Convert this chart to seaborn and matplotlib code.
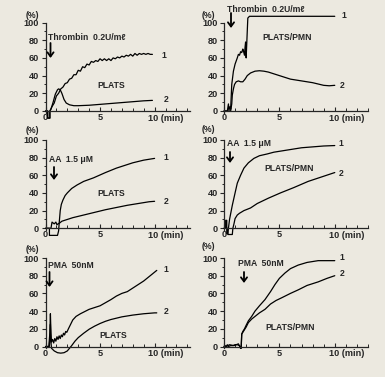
import matplotlib
matplotlib.use("Agg")
import matplotlib.pyplot as plt
import seaborn as sns
from matplotlib.ticker import MultipleLocator, FixedLocator

sns.set_style("ticks")
plt.rcParams['font.family'] = ['Liberation Sans', 'DejaVu Sans']
plt.rcParams['font.weight'] = 'bold'

BG = '#ece9e0'

# ---------------- data (time in min, aggregation in %) ----------------
# Panel A: Thrombin, PLATS
a1_t = [0, 0.2, 0.2, 0.4, 0.4, 0.6, 0.8, 1.0, 1.2, 1.4, 1.6, 1.8, 2.0, 2.2, 2.4, 2.6, 2.8,
        3.0, 3.2, 3.4, 3.6, 3.8, 4.0, 4.2, 4.4, 4.6, 4.8, 5.0, 5.2, 5.4, 5.6, 5.8, 6.0, 6.2,
        6.4, 6.6, 6.8, 7.0, 7.2, 7.4, 7.6, 7.8, 8.0, 8.2, 8.4, 8.6, 8.8, 9.0, 9.2, 9.4, 9.6, 9.8]
a1_y = [0, 0, -8, -8, 0, 5, 9, 17, 20, 25, 27, 31, 32, 36, 37, 41, 41,
        46, 45, 50, 49, 53, 52, 56, 55, 57, 56, 59, 57, 59, 57, 59, 57, 60,
        59, 61, 60, 62, 61, 63, 62, 64, 62, 65, 63, 65, 64, 65, 64, 65, 64, 64]
a2_t = [0, 0.2, 0.2, 0.4, 0.4, 0.5, 0.7, 0.9, 1.1, 1.2, 1.35, 1.5, 1.7, 1.9, 2.2, 2.6, 3.0,
        4.0, 5.0, 6.0, 7.0, 8.0, 9.0, 9.8]
a2_y = [0, 0, -8, -8, 0, 2, 10, 19, 24, 25, 24, 20, 13, 9, 7, 6, 6,
        6.5, 7.5, 8.5, 9.5, 10.5, 11.5, 12]

# Panel B: Thrombin, PLATS/PMN
b1_t = [0, 0.3, 0.4, 0.45, 0.55, 0.6, 0.7, 0.85, 1.0, 1.2, 1.3, 1.4, 1.5, 1.6, 1.7,
        1.75, 1.85, 1.9, 1.95, 2.0, 2.05, 2.15, 2.3, 5.0, 10.0]
b1_y = [0, 0, 8, 1, 5, 2, 30, 45, 53, 60, 64, 63, 67, 66, 70,
        68, 63, 72, 78, 60, 75, 105, 107, 107, 107]
b2_t = [0, 0.6, 0.7, 0.75, 0.85, 0.95, 1.1, 1.3, 1.5, 1.7, 1.9, 2.1, 2.4, 2.8, 3.2,
        3.6, 4.0, 5.0, 6.0, 7.0, 8.0, 9.0, 9.5, 10.0]
b2_y = [0, 0, 8, 18, 25, 30, 33, 34, 33, 33, 36, 40, 43, 45, 45.5,
        45, 44, 40, 36, 34, 32, 29, 28.5, 29]

# Panel C: AA, PLATS
c1_t = [0, 0.36, 0.36, 1.1, 1.2, 1.25, 1.35, 1.45, 1.6, 1.8, 2.0, 2.4, 2.9, 3.5, 4.4,
        5.5, 6.5, 7.0, 8.0, 9.0, 10.0]
c1_y = [0, 0, -8, -8, -3, 5, 20, 27, 32, 37, 40, 45, 49, 53, 57,
        63, 68, 70, 74, 77, 79]
c2_t = [0, 0.5, 0.6, 0.7, 0.8, 0.95, 1.05, 1.15, 1.3, 1.5, 2.0, 2.5, 3.5, 4.5, 5.5,
        6.5, 7.5, 8.5, 9.5, 10.0]
c2_y = [0, 0, 7, 6, 5, 7, 4, 5, 6, 8, 10, 12, 15, 18, 21,
        23.5, 26, 28, 30, 30.5]

# Panel D: AA, PLATS/PMN
d1_t = [0, 0.15, 0.15, 0.25, 0.25, 0.35, 0.4, 0.5, 0.75, 1.0, 1.2, 1.5, 1.8, 2.2, 2.7,
        3.2, 3.9, 4.5, 5.0, 5.5, 6.0, 7.0, 8.0, 9.0, 10.0]
d1_y = [0, 0, 9, 9, -6, -6, 0, 10, 26, 40, 51, 60, 68, 74, 79,
        82, 84, 86, 87, 88, 89, 91, 92, 93, 93.5]
d2_t = [0, 0.3, 0.35, 0.75, 0.8, 0.9, 1.0, 1.2, 1.4, 1.8, 2.4, 3.0, 4.0, 5.1, 6.3,
        7.6, 8.8, 10.0]
d2_y = [0, 0, -7, -7, 0, 5, 11, 15, 17, 20, 23, 28, 34, 40, 46,
        53, 58, 63]

# Panel E: PMA, PLATS
e1_t = [0, 0.3, 0.4, 0.45, 0.5, 0.55, 0.65, 0.75, 0.85, 0.95, 1.05, 1.15, 1.25, 1.35,
        1.45, 1.55, 1.65, 1.75, 1.85, 1.95, 2.1, 2.3, 2.5, 2.8, 3.2, 4.0, 5.0, 6.0,
        6.5, 7.0, 7.5, 8.0, 8.5, 9.0, 9.5, 10.0, 10.2]
e1_y = [0, 0, 15, 37, 15, 5, 8, 4, 9, 6, 11, 8, 12, 9,
        13, 11, 15, 13, 17, 16, 20, 25, 30, 34, 37, 42, 46, 53,
        57, 60, 62, 66, 70, 74, 79, 84, 86]
e2_t = [0, 0.35, 0.4, 0.45, 0.5, 0.55, 0.8, 1.1, 1.4, 1.7, 2.0, 2.2, 2.4, 2.7, 3.0,
        3.5, 4.0, 4.5, 5.0, 5.5, 6.0, 7.0, 8.0, 9.0, 10.0, 10.2]
e2_y = [0, 0, 10, 25, 5, -2, -5, -7, -7.5, -7, -5, -2, 1, 6, 10,
        15, 19.5, 23, 26, 28.5, 30.5, 33.5, 35.5, 37, 38, 38]

# Panel F: PMA, PLATS/PMN
f1_t = [0, 0.1, 0.2, 0.3, 0.4, 0.6, 0.8, 1.0, 1.2, 1.4, 1.5, 1.55, 1.6, 1.7, 1.85, 2.0,
        2.2, 2.5, 2.8, 3.2, 3.7, 4.2, 4.6, 5.0, 5.5, 6.0, 6.7, 7.5, 8.5, 9.3, 10.0]
f1_y = [0, 1, 0, 2, 0, 1, 1, 2, 2, 1, -2, -2, 14, 17, 20, 24,
        29, 34, 40, 46, 53, 62, 70, 77, 83, 88, 92, 95, 97, 97, 97]
f2_t = [0, 0.2, 0.5, 0.9, 1.3, 1.5, 1.55, 1.6, 1.7, 1.85, 2.0, 2.2, 2.5, 2.8, 3.2, 3.7,
        4.2, 4.7, 5.2, 6.0, 6.7, 7.5, 8.5, 9.3, 10.0]
f2_y = [0, 0, 2, 1, 3, -2, -2, 14, 16, 19, 22, 27, 31, 34, 38, 42,
        48, 52, 55, 60, 64, 69, 73, 77, 80]

agonists = ["Thrombin  0.2U/mℓ", "AA  1.5 μM", "PMA  50nM"]
samples = ["PLATS", "PLATS/PMN"]
y_ticks = [0, 20, 40, 60, 80, 100]

panels = [
    (a1_t, a1_y, a2_t, a2_y), (b1_t, b1_y, b2_t, b2_y),
    (c1_t, c1_y, c2_t, c2_y), (d1_t, d1_y, d2_t, d2_y),
    (e1_t, e1_y, e2_t, e2_y), (f1_t, f1_y, f2_t, f2_y),
]

W, H = 385, 377
fig = plt.figure(figsize=(W / 100, H / 100), dpi=100)
fig.patch.set_facecolor(BG)

col_left = [45.5, 224.0]
col_xmax = [13.2, 13.0]
row_y0 = [111.0, 228.3, 346.5]
ax_w = 144.0
ax_h = 88.5

FS = 6.2
TFS = 6.6

def fx(x):
    return x / W

def fy(y):
    return 1 - y / H

axes = []
for i, (t1, y1, t2, y2) in enumerate(panels):
    r, c = divmod(i, 2)
    ax = fig.add_axes([fx(col_left[c]), fy(row_y0[r]), ax_w / W, ax_h / H])
    ax.set_facecolor(BG)
    ax.patch.set_alpha(0)
    sns.lineplot(x=t1, y=y1, ax=ax, color='black', lw=0.9, estimator=None,
                 sort=False, clip_on=False)
    sns.lineplot(x=t2, y=y2, ax=ax, color='black', lw=0.9, estimator=None,
                 sort=False, clip_on=False)
    ax.set_xlim(0, col_xmax[c])
    ax.set_ylim(0, 100)
    for s in ['top', 'right']:
        ax.spines[s].set_visible(False)
    for s in ['left', 'bottom']:
        ax.spines[s].set_linewidth(0.9)
    ax.spines['left'].set_bounds(-2, 100)
    ax.set_yticks(y_ticks)
    ax.set_yticklabels([str(v) for v in y_ticks], fontsize=TFS, fontweight='bold')
    ax.yaxis.set_minor_locator(FixedLocator([10, 30, 50, 70, 90]))
    ax.set_xticks([0, 5, 10])
    ax.set_xticklabels(['0', '5', ''], fontsize=TFS, fontweight='bold')
    ax.xaxis.set_minor_locator(MultipleLocator(1))
    ax.tick_params(axis='y', which='major', direction='out', length=3, width=0.8, pad=1.5)
    ax.tick_params(axis='y', which='minor', direction='out', length=1.5, width=0.7)
    ax.tick_params(axis='x', which='major', direction='in', length=3, width=0.8, pad=1.5)
    ax.tick_params(axis='x', which='minor', direction='in', length=2.5, width=0.7)
    ax.set_xlabel('')
    ax.set_ylabel('')
    ax.annotate('10 (min)', xy=(10, 0), xycoords='data', xytext=(-4.5, -5.4),
                textcoords='offset points', ha='left', va='center',
                fontsize=TFS, fontweight='bold', annotation_clip=False)
    axes.append(ax)

# annotations (pixel positions of the reference)
texts = [
    (48, 38, agonists[0], 'left'), (97, 86, samples[0], 'left'),
    (164, 55, '1', 'center'), (166, 100, '2', 'center'), (32, 15, '(%)', 'center'),
    (227, 9, agonists[0], 'left'), (262, 37, samples[1], 'left'),
    (344, 15, '1', 'center'), (342, 85, '2', 'center'), (208, 15, '(%)', 'center'),
    (49, 159, agonists[1], 'left'), (97, 193, samples[0], 'left'),
    (166, 158, '1', 'center'), (166, 201, '2', 'center'), (32, 131, '(%)', 'center'),
    (227, 143, agonists[1], 'left'), (264, 168, samples[1], 'left'),
    (341, 144, '1', 'center'), (341, 173, '2', 'center'), (208, 129, '(%)', 'center'),
    (48, 266, agonists[2], 'left'), (99, 335, samples[0], 'left'),
    (166, 269, '1', 'center'), (166, 312, '2', 'center'), (32, 250, '(%)', 'center'),
    (238, 263, agonists[2], 'left'), (265, 328, samples[1], 'left'),
    (342, 257, '1', 'center'), (342, 274, '2', 'center'), (208, 246, '(%)', 'center'),
]
for x, y, s, ha in texts:
    fig.text(fx(x), fy(y), s, ha=ha, va='center', fontsize=FS, fontweight='bold')

arrows = [(50.5, 43, 58), (231, 13, 28), (54, 167, 180),
          (230, 152, 163), (49.5, 272, 287), (244, 272, 283)]
for x, ya, yb in arrows:
    fig.add_artist(matplotlib.patches.FancyArrowPatch(
        (fx(x), fy(ya)), (fx(x), fy(yb)), transform=fig.transFigure,
        arrowstyle='->,head_length=3,head_width=2.2', lw=1.3, color='black',
        mutation_scale=1, shrinkA=0, shrinkB=0))

fig.savefig('out.png', dpi=100, facecolor=BG)
